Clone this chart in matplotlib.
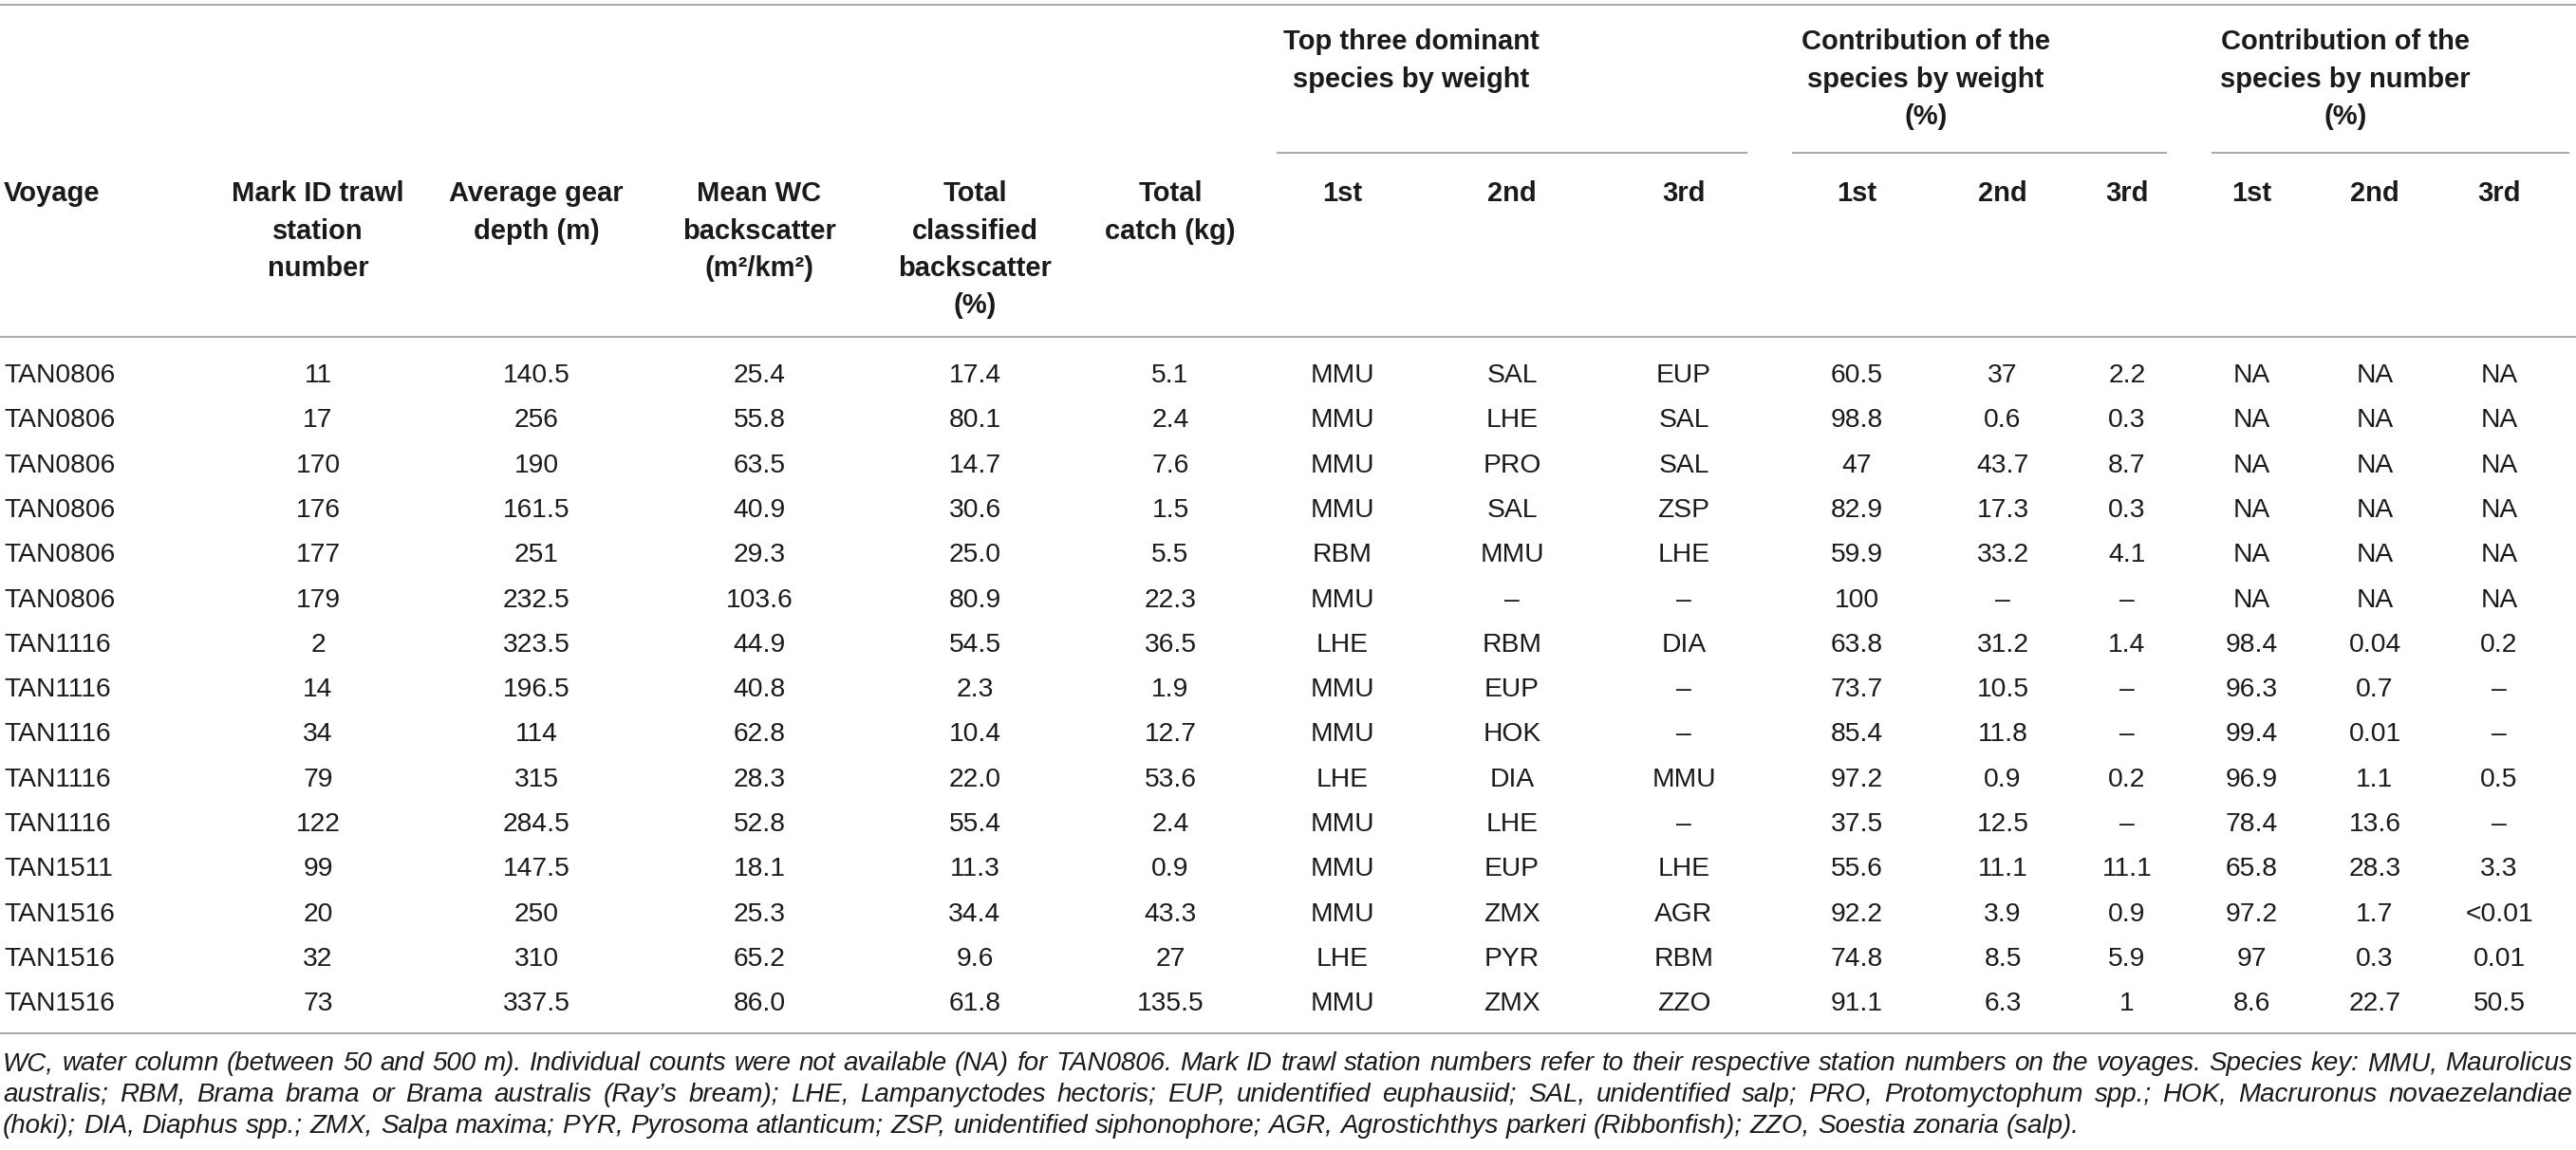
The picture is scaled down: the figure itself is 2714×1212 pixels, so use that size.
import matplotlib.pyplot as plt

plt.rcParams['font.family'] = ['Liberation Sans', 'DejaVu Sans']

# table data
voyage = ['TAN0806'] * 6 + ['TAN1116'] * 5 + ['TAN1511'] + ['TAN1516'] * 3
station = ['11', '17', '170', '176', '177', '179', '2', '14', '34', '79', '122', '99', '20', '32', '73']
depth = ['140.5', '256', '190', '161.5', '251', '232.5', '323.5', '196.5', '114', '315', '284.5',
         '147.5', '250', '310', '337.5']
mean_wc = ['25.4', '55.8', '63.5', '40.9', '29.3', '103.6', '44.9', '40.8', '62.8', '28.3', '52.8',
           '18.1', '25.3', '65.2', '86.0']
classified = ['17.4', '80.1', '14.7', '30.6', '25.0', '80.9', '54.5', '2.3', '10.4', '22.0', '55.4',
              '11.3', '34.4', '9.6', '61.8']
catch = ['5.1', '2.4', '7.6', '1.5', '5.5', '22.3', '36.5', '1.9', '12.7', '53.6', '2.4', '0.9',
         '43.3', '27', '135.5']
sp1 = ['MMU', 'MMU', 'MMU', 'MMU', 'RBM', 'MMU', 'LHE', 'MMU', 'MMU', 'LHE', 'MMU', 'MMU', 'MMU', 'LHE', 'MMU']
sp2 = ['SAL', 'LHE', 'PRO', 'SAL', 'MMU', '–', 'RBM', 'EUP', 'HOK', 'DIA', 'LHE', 'EUP', 'ZMX', 'PYR', 'ZMX']
sp3 = ['EUP', 'SAL', 'SAL', 'ZSP', 'LHE', '–', 'DIA', '–', '–', 'MMU', '–', 'LHE', 'AGR', 'RBM', 'ZZO']
wt1 = ['60.5', '98.8', '47', '82.9', '59.9', '100', '63.8', '73.7', '85.4', '97.2', '37.5', '55.6',
       '92.2', '74.8', '91.1']
wt2 = ['37', '0.6', '43.7', '17.3', '33.2', '–', '31.2', '10.5', '11.8', '0.9', '12.5', '11.1',
       '3.9', '8.5', '6.3']
wt3 = ['2.2', '0.3', '8.7', '0.3', '4.1', '–', '1.4', '–', '–', '0.2', '–', '11.1', '0.9', '5.9', '1']
num1 = ['NA'] * 6 + ['98.4', '96.3', '99.4', '96.9', '78.4', '65.8', '97.2', '97', '8.6']
num2 = ['NA'] * 6 + ['0.04', '0.7', '0.01', '1.1', '13.6', '28.3', '1.7', '0.3', '22.7']
num3 = ['NA'] * 6 + ['0.2', '–', '–', '0.5', '–', '3.3', '<0.01', '0.01', '50.5']

columns = [voyage, station, depth, mean_wc, classified, catch,
           sp1, sp2, sp3, wt1, wt2, wt3, num1, num2, num3]

headers = ['Voyage', 'Mark ID trawl\nstation\nnumber', 'Average gear\ndepth (m)',
           'Mean WC\nbackscatter\n(m²/km²)', 'Total\nclassified\nbackscatter\n(%)',
           'Total\ncatch (kg)', '1st', '2nd', '3rd', '1st', '2nd', '3rd', '1st', '2nd', '3rd']
groups = ['Top three dominant\nspecies by weight',
          'Contribution of the\nspecies by weight\n(%)',
          'Contribution of the\nspecies by number\n(%)']

footnote = [
    'WC, water column (between 50 and 500 m). Individual counts were not available (NA) for TAN0806. '
    'Mark ID trawl station numbers refer to their respective station numbers on the voyages. '
    'Species key: MMU, Maurolicus',
    'australis; RBM, Brama brama or Brama australis (Ray’s bream); LHE, Lampanyctodes hectoris; '
    'EUP, unidentified euphausiid; SAL, unidentified salp; PRO, Protomyctophum spp.; '
    'HOK, Macruronus novaezelandiae',
    '(hoki); DIA, Diaphus spp.; ZMX, Salpa maxima; PYR, Pyrosoma atlanticum; ZSP, unidentified '
    'siphonophore; AGR, Agrostichthys parkeri (Ribbonfish); ZZO, Soestia zonaria (salp).',
]

# layout (pixels)
W, H = 2714, 1212
col_x = [4, 335, 565, 800, 1027, 1233, 1414, 1593, 1774, 1956, 2110, 2241, 2372, 2502, 2633]
group_x = [1487, 2029, 2471]
group_span = [(1345, 1841), (1888, 2283), (2330, 2707)]
row0, row_h = 403, 47.3
fs = 20.3
head_fs = 21
fn_fs = 20
line_col = '#8f8f8f'
txt_col = '#1a1a1a'

fig = plt.figure(figsize=(W / 100, H / 100), dpi=100)
ax = fig.add_axes([0, 0, 1, 1])
ax.set_xlim(0, W)
ax.set_ylim(H, 0)
ax.axis('off')

# rules
for y in (5, 355, 1089):
    ax.plot([0, W], [y, y], color=line_col, lw=1.1, solid_capstyle='butt')
for a, b in group_span:
    ax.plot([a, b], [161, 161], color=line_col, lw=1.1, solid_capstyle='butt')

# group headers
for gx, g in zip(group_x, groups):
    for k, part in enumerate(g.split('\n')):
        ax.text(gx, 52 + k * 39.5, part, ha='center', va='baseline', fontsize=head_fs,
                fontweight='bold', color=txt_col)

# column headers
for j, (cx, h) in enumerate(zip(col_x, headers)):
    for k, part in enumerate(h.split('\n')):
        ax.text(cx, 212 + k * 39.5, part, ha='left' if j == 0 else 'center', va='baseline',
                fontsize=head_fs, fontweight='bold', color=txt_col)

# body
for j, (cx, col) in enumerate(zip(col_x, columns)):
    for i, v in enumerate(col):
        ax.text(cx, row0 + i * row_h, v, ha='left' if j == 0 else 'center', va='baseline',
                fontsize=fs, color=txt_col)

# footnote, justified except last line
renderer = fig.canvas.get_renderer()
probe1 = ax.text(0, 0, 'a b', fontsize=fn_fs, style='italic')
probe2 = ax.text(0, 0, 'ab', fontsize=fn_fs, style='italic')
sp_w = probe1.get_window_extent(renderer).width - probe2.get_window_extent(renderer).width
probe1.remove()
probe2.remove()
for k, line in enumerate(footnote):
    y = 1128 + k * 32.8
    words = line.split(' ')
    texts = [ax.text(0, y, w, ha='left', va='baseline', fontsize=fn_fs, style='italic',
                     color=txt_col) for w in words]
    widths = [t.get_window_extent(renderer).width for t in texts]
    if k < len(footnote) - 1:
        gap = (2710 - 3 - sum(widths)) / (len(words) - 1)
    else:
        gap = sp_w
    x = 3
    for t, w in zip(texts, widths):
        t.set_x(x)
        x += w + gap

fig.savefig('out.png', dpi=100)
